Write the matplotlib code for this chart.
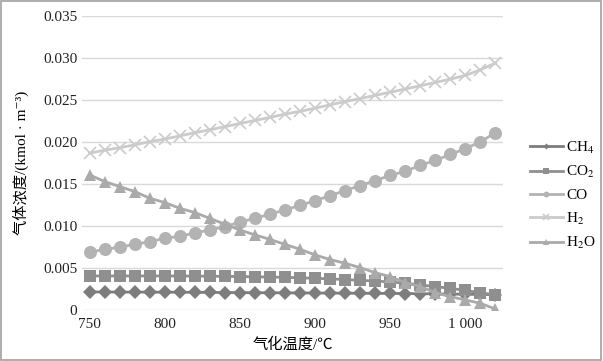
import matplotlib
matplotlib.use("Agg")
import matplotlib.pyplot as plt
import numpy as np

plt.rcParams['font.family'] = ['Liberation Serif', 'Noto Sans CJK SC', 'DejaVu Serif']
plt.rcParams['mathtext.fontset'] = 'stix'

# gasification temperature, 750..1020 step 10
temps = list(range(750, 1030, 10))

ch4 = [0.00215, 0.00214, 0.00213, 0.00213, 0.00212, 0.00212, 0.00211, 0.00210,
       0.00209, 0.00208, 0.00207, 0.00206, 0.00205, 0.00204, 0.00203, 0.00202,
       0.00201, 0.00200, 0.00199, 0.00198, 0.00197, 0.00196, 0.00194, 0.00192,
       0.00190, 0.00188, 0.00185, 0.00182]
co2 = [0.00405, 0.00405, 0.00405, 0.00405, 0.00405, 0.00405, 0.00404, 0.00403,
       0.00402, 0.00400, 0.00398, 0.00395, 0.00392, 0.00388, 0.00383, 0.00377,
       0.00370, 0.00362, 0.00353, 0.00344, 0.00334, 0.00318, 0.00298, 0.00278,
       0.00258, 0.00232, 0.00206, 0.00179]
co = [0.00688, 0.00720, 0.00747, 0.00780, 0.00813, 0.00852, 0.00877, 0.00916,
      0.00952, 0.00992, 0.01045, 0.01090, 0.01140, 0.01190, 0.01245, 0.01300,
      0.01360, 0.01420, 0.01480, 0.01540, 0.01600, 0.01650, 0.01720, 0.01780,
      0.01850, 0.01920, 0.02000, 0.02110]
h2 = [0.01865, 0.01900, 0.01930, 0.01964, 0.02002, 0.02032, 0.02071, 0.02108,
      0.02143, 0.02180, 0.02218, 0.02254, 0.02290, 0.02330, 0.02362, 0.02400,
      0.02440, 0.02478, 0.02515, 0.02552, 0.02590, 0.02628, 0.02667, 0.02706,
      0.02746, 0.02790, 0.02857, 0.02937]
h2o = [0.01607, 0.01528, 0.01468, 0.01409, 0.01330, 0.01278, 0.01210, 0.01159,
       0.01090, 0.01020, 0.00952, 0.00893, 0.00840, 0.00780, 0.00722, 0.00655,
       0.00600, 0.00556, 0.00504, 0.00444, 0.00397, 0.00325, 0.00278, 0.00206,
       0.00159, 0.00119, 0.00080, 0.00010]

series = [
    ('CH$_4$', ch4, '#7d7d7d', 'D', 6.8),
    ('CO$_2$', co2, '#8f8f8f', 's', 9.0),
    ('CO', co, '#b3b3b3', 'o', 9.4),
    ('H$_2$', h2, '#cbcbcb', 'x', 9.0),
    ('H$_2$O', h2o, '#aaaaaa', '^', 9.0),
]

fig = plt.figure(figsize=(6.03, 3.61), dpi=100)
ax = fig.add_axes([82 / 603, 1 - 310 / 361, (503 - 82) / 603, (310 - 15.7) / 361])

for name, vals, col, mk, ms in series:
    ax.plot(temps, vals, color=col, lw=2.0, marker=mk, ms=ms,
            mew=1.2 if mk == 'x' else 0, label=name)

ax.set_xlim(745, 1025)
ax.set_ylim(0, 0.035)
ax.set_xticks([750, 800, 850, 900, 950, 1000])
ax.set_xticklabels(['750', '800', '850', '900', '950', '1 000'])
ax.set_yticks(np.arange(0, 0.0351, 0.005))
ax.set_yticklabels(['0', '0.005', '0.010', '0.015', '0.020', '0.025', '0.030', '0.035'])
ax.tick_params(length=0, labelsize=11, colors='#222222')
ax.tick_params(axis='x', pad=6)
ax.grid(axis='y', color='#d9d9d9', lw=1)
ax.set_axisbelow(True)
for s in ax.spines.values():
    s.set_visible(False)

ax.set_xlabel('气化温度/℃', fontsize=11, labelpad=4)
ax.set_ylabel('气体浓度/(kmol · m⁻³)', fontsize=11, labelpad=10)

leg = fig.legend(loc='upper left', bbox_to_anchor=(522 / 603, 1 - 132 / 361),
                 frameon=False, fontsize=11, markerscale=0.45, handlelength=2.2,
                 labelspacing=0.55, handletextpad=0.2, borderpad=0)

# outer frame
fig.patches.append(plt.Rectangle((0.002, 0.003), 0.995, 0.994, transform=fig.transFigure,
                                 fill=False, ec='#a0a0a0', lw=1.2))

fig.savefig('out.png', dpi=100)
